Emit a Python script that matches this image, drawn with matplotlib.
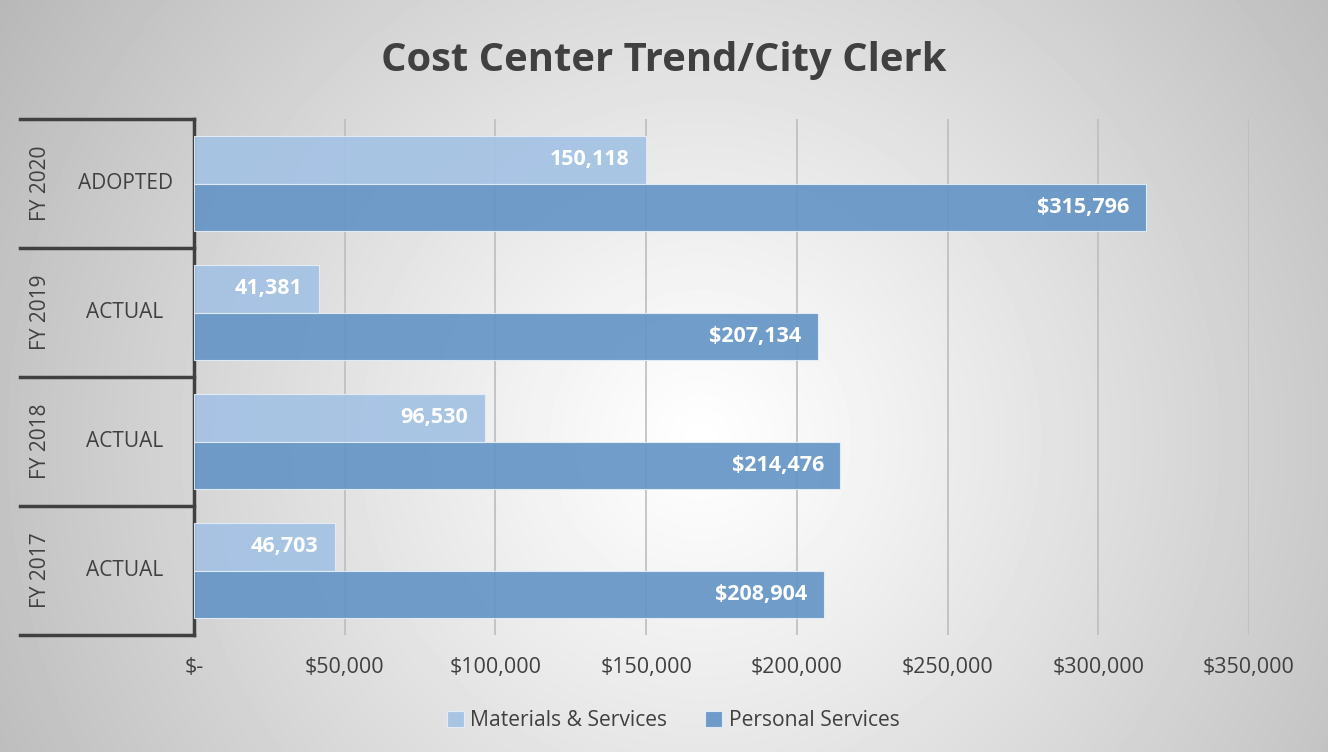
import numpy as np
import matplotlib
matplotlib.use("Agg")
from matplotlib import pyplot as plt
from matplotlib import transforms
from matplotlib.lines import Line2D

plt.rcParams['font.family'] = ['Open Sans', 'DejaVu Sans']

years = ['FY 2017', 'FY 2018', 'FY 2019', 'FY 2020']
kinds = ['ACTUAL', 'ACTUAL', 'ACTUAL', 'ADOPTED']
materials = [46703, 96530, 41381, 150118]
personal = [208904, 214476, 207134, 315796]
xticks = [0, 50000, 100000, 150000, 200000, 250000, 300000, 350000]

light = '#a4c2e4'
dark = '#6495c5'
W, H = 1328, 752

fig = plt.figure(figsize=(W / 100, H / 100), dpi=100)

# radial grey background
bg = fig.add_axes([0, 0, 1, 1], zorder=-5)
yy, xx = np.mgrid[0:H, 0:W]
d = np.sqrt((xx - 700) ** 2 + (yy - 440) ** 2) / 800
shade = np.clip(1 - 0.27 * d ** 1.1, 0, 1)
bg.imshow(shade, cmap='gray', vmin=0, vmax=1, extent=[0, W, H, 0], aspect='auto')
bg.axis('off')

ax = fig.add_axes([194 / W, 1 - 635 / H, (1249 - 194) / W, (635 - 119) / H])
ax.patch.set_visible(False)

y = np.arange(len(years))
h = 0.37
b1 = ax.barh(y + h / 2, materials, height=h, color=light, alpha=0.92,
             edgecolor='#e6eef8', linewidth=0.8, label='Materials & Services', zorder=3)
b2 = ax.barh(y - h / 2, personal, height=h, color=dark, alpha=0.92,
             edgecolor='#e6eef8', linewidth=0.8, label='Personal Services', zorder=3)

for rect, v in zip(b1, materials):
    ax.annotate(f'{v:,}', (v, rect.get_y() + rect.get_height() / 2),
                xytext=(-12, 0), textcoords='offset points', ha='right', va='center',
                color='white', fontsize=15.5, fontweight='bold', zorder=5)
for rect, v in zip(b2, personal):
    ax.annotate(f'${v:,}', (v, rect.get_y() + rect.get_height() / 2),
                xytext=(-12, 0), textcoords='offset points', ha='right', va='center',
                color='white', fontsize=15.5, fontweight='bold', zorder=5)

ax.set_xlim(0, 350000)
ax.set_ylim(-0.5, len(years) - 0.5)
ax.set_xticks(xticks)
ax.set_xticklabels(['$-'] + [f'${v:,}' for v in xticks[1:]], fontsize=15.5, color='#404040')
ax.tick_params(axis='x', length=0, pad=16)
ax.set_yticks([])
ax.grid(axis='x', color='#bdbdbd', linewidth=1.2, zorder=0)
for s in ['top', 'right', 'bottom']:
    ax.spines[s].set_visible(False)
ax.spines['left'].set_color('#404040')
ax.spines['left'].set_linewidth(2.5)

# two-level category labels
tr = transforms.blended_transform_factory(fig.transFigure, ax.transData)
for b in np.arange(-0.5, len(years), 1.0):
    fig.add_artist(Line2D([20 / W, 194 / W], [b, b], transform=tr, color='#404040', linewidth=2.5))
for i in range(len(years)):
    fig.text(40 / W, i, years[i], transform=tr, rotation=90, ha='center', va='center',
             fontsize=15, color='#404040')
    fig.text(125 / W, i, kinds[i], transform=tr, ha='center', va='center',
             fontsize=15, color='#404040')

fig.text(0.5, 1 - 60 / H, 'Cost Center Trend/City Clerk', ha='center', va='center',
         fontsize=28.8, fontweight='bold', color='#404040')

fig.legend(handles=[b1, b2], loc='center', bbox_to_anchor=(0.507, 1 - 721 / H), ncol=2,
           frameon=False, fontsize=15.2, handlelength=0.8, handleheight=0.8,
           columnspacing=1.8, handletextpad=0.3, labelcolor='#404040')

fig.savefig('out.png', dpi=100)
